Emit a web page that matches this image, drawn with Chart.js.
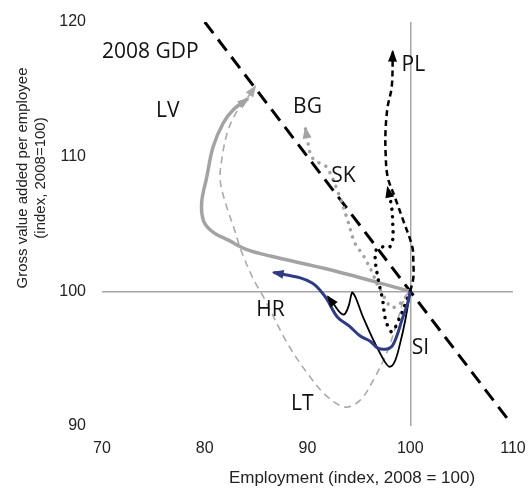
<!DOCTYPE html>
<html>
<head>
<meta charset="utf-8">
<script src="https://cdn.jsdelivr.net/npm/chart.js@4/dist/chart.umd.min.js"></script>
<style>
  html, body { margin: 0; padding: 0; background: #fff; }
  canvas { display: block; }
</style>
</head>
<body>
<canvas id="c" width="528" height="491"></canvas>
<script>
// axis ticks
const xTicks = [70, 80, 90, 100, 110];
const yTicks = [90, 100, 110, 120];

// 2008 GDP reference line (employment, gva)
const gdpEmp = [80, 109.5];
const gdpGva = [120, 90.5];

// country paths: employment index / gross value added per employee index
const lvEmp = [100, 92.2, 86.5, 84.1, 82.3, 80.8, 79.9, 79.7, 80.2, 80.8, 81.8, 82.8, 84.2];
const lvGva = [100, 101.6, 102.6, 103.1, 103.8, 104.4, 105.2, 106.6, 108.5, 110.7, 112.5, 113.5, 114.3];

const ltEmp = [100, 99.5, 98.7, 97.8, 96.4, 95.1, 93.7, 91.9, 90.0, 88.0, 85.7, 84.8, 83.6, 82.8, 82.0, 81.5, 81.7, 82.2, 83.0, 83.9, 84.9];
const ltGva = [100, 99.6, 97.7, 95.6, 93.4, 91.9, 91.4, 92.2, 93.9, 96.2, 99.6, 100.8, 102.9, 104.8, 106.6, 108.3, 110.0, 111.8, 113.2, 114.1, 115.2];

const bgEmp = [100, 99.7, 99.0, 98.2, 97.6, 96.8, 96.3, 95.4, 94.6, 93.9, 93.0, 91.9, 91.2, 90.4, 90.0, 89.8];
const bgGva = [100, 99.7, 99.1, 98.8, 99.4, 100.5, 101.4, 102.7, 103.6, 105.3, 107.3, 109.2, 109.5, 110.0, 111.2, 112.1];

const skEmp = [100, 99.7, 99.0, 98.2, 97.6, 97.3, 96.9, 96.6, 96.7, 97.3, 98.0, 98.3, 98.3, 98.2, 98.0, 97.8];
const skGva = [100, 99.4, 98.1, 97.0, 97.9, 99.4, 100.8, 102.3, 103.1, 103.3, 103.3, 103.9, 105.0, 106.2, 107.0, 107.7];

const plEmp = [100, 100.3, 100.3, 100.2, 99.3, 98.5, 97.8, 97.6, 97.6, 97.8, 98.2, 98.3];
const plGva = [100, 101.0, 102.2, 103.3, 105.3, 107.0, 108.5, 110.3, 112.0, 113.7, 115.2, 117.8];

const hrEmp = [100, 99.7, 99.2, 98.7, 98.2, 97.6, 96.8, 96.1, 95.1, 94.1, 92.9, 91.9, 91.2, 90.5, 89.3, 86.7];
const hrGva = [100, 99.0, 97.9, 96.7, 95.9, 95.7, 95.8, 96.3, 96.7, 97.4, 98.1, 99.4, 100.1, 100.6, 101.0, 101.4];

const siEmp = [100, 99.5, 99.0, 98.5, 98.0, 97.5, 96.4, 95.4, 94.4, 94.0, 93.6, 93.2, 92.6, 92.0];
const siGva = [100, 97.8, 96.1, 94.8, 94.4, 94.8, 96.4, 98.1, 99.9, 98.9, 98.3, 98.4, 99.0, 99.6];

// text labels in the plot: [text, employment, gva]
const labelText = ["2008 GDP", "LV", "BG", "SK", "PL", "HR", "LT", "SI"];
const labelEmp = [74.7, 76.4, 90.0, 93.5, 100.3, 86.4, 89.5, 101.0];
const labelGva = [117.8, 113.4, 113.7, 108.6, 116.8, 98.6, 91.6, 95.8];

const toPoints = (xs, ys) => xs.map((x, i) => ({ x, y: ys[i] }));

const GRAY = "#a3a3a3";
const NAVY = "#2f3b84";

const base = { showLine: true, pointRadius: 0, pointHoverRadius: 0, fill: false, tension: 0.35 };

const datasets = [
  { ...base, data: toPoints(hrEmp, hrGva), borderColor: NAVY, borderWidth: 3, arrow: NAVY },
  { ...base, data: toPoints(siEmp, siGva), borderColor: "#000", borderWidth: 1.8, arrow: "#000" },
  { ...base, data: toPoints(plEmp, plGva), borderColor: "#000", borderWidth: 2.5, borderDash: [6, 4], arrow: "#000" },
  { ...base, data: toPoints(skEmp, skGva), borderColor: "#000", borderWidth: 3.5, borderDash: [0.1, 7.5], borderCapStyle: "round", arrow: "#000" },
  { ...base, data: toPoints(bgEmp, bgGva), borderColor: GRAY, borderWidth: 3.5, borderDash: [0.1, 7.5], borderCapStyle: "round", arrow: GRAY },
  { ...base, data: toPoints(lvEmp, lvGva), borderColor: GRAY, borderWidth: 3.5, arrow: GRAY },
  { ...base, data: toPoints(ltEmp, ltGva), borderColor: "#aaaaaa", borderWidth: 1.6, borderDash: [7, 5], arrow: "#aaaaaa" },
  { ...base, tension: 0, data: toPoints(gdpEmp, gdpGva), borderColor: "#000", borderWidth: 3, borderDash: [14, 8] },
];

// arrowheads at the end of each path
const arrowPlugin = {
  id: "arrows",
  afterDatasetsDraw(chart) {
    const ctx = chart.ctx;
    chart.data.datasets.forEach((ds, i) => {
      if (!ds.arrow) return;
      const pts = chart.getDatasetMeta(i).data;
      const last = pts[pts.length - 1];
      let fx = last.cp1x, fy = last.cp1y;
      if (fx === undefined || Math.hypot(last.x - fx, last.y - fy) < 0.5) {
        fx = pts[pts.length - 2].x;
        fy = pts[pts.length - 2].y;
      }
      const ang = Math.atan2(last.y - fy, last.x - fx);
      const len = 10, half = 4.5;
      ctx.save();
      ctx.translate(last.x, last.y);
      ctx.rotate(ang);
      ctx.fillStyle = ds.arrow;
      ctx.beginPath();
      ctx.moveTo(2, 0);
      ctx.lineTo(-len, -half);
      ctx.lineTo(-len, half);
      ctx.closePath();
      ctx.fill();
      ctx.restore();
    });
  },
};

// plot labels and axis titles
const textPlugin = {
  id: "texts",
  afterDraw(chart) {
    const ctx = chart.ctx;
    const xs = chart.scales.x, ys = chart.scales.y;
    ctx.save();
    ctx.fillStyle = "#111";
    ctx.textAlign = "center";
    ctx.textBaseline = "middle";
    ctx.font = '21px "Open Sans"';
    labelText.forEach((t, i) => {
      ctx.fillText(t, xs.getPixelForValue(labelEmp[i]), ys.getPixelForValue(labelGva[i]));
    });

    ctx.fillStyle = "#222";
    ctx.font = '17px "Liberation Sans"';
    ctx.fillText("Employment (index, 2008 = 100)", 352, 478);

    ctx.font = '15px "Liberation Sans"';
    ctx.translate(32, 178);
    ctx.rotate(-Math.PI / 2);
    ctx.fillText("Gross value added per employee", 0, -9);
    ctx.fillText("(index, 2008=100)", 0, 9);
    ctx.restore();
  },
};

const axisLine = (c) => (c.tick && c.tick.value === 100 ? "#a6a6a6" : "rgba(0,0,0,0)");

new Chart(document.getElementById("c"), {
  type: "scatter",
  data: { datasets },
  options: {
    responsive: false,
    animation: false,
    events: [],
    layout: { padding: { left: 0, right: 15, top: 22, bottom: 0 } },
    plugins: { legend: { display: false }, tooltip: { enabled: false } },
    scales: {
      x: {
        type: "linear",
        min: xTicks[0],
        max: xTicks[xTicks.length - 1],
        afterFit: (s) => { s.height = 65; s.paddingLeft = 0; s.paddingRight = 0; },
        afterBuildTicks: (s) => { s.ticks = xTicks.map((v) => ({ value: v })); },
        ticks: { padding: 13, color: "#222", font: { family: "Liberation Sans", size: 16 } },
        grid: { drawTicks: false, color: axisLine, lineWidth: 1.5 },
        border: { display: false },
      },
      y: {
        type: "linear",
        min: yTicks[0],
        max: yTicks[yTicks.length - 1],
        afterFit: (s) => { s.width = 102; s.paddingTop = 0; s.paddingBottom = 0; },
        afterBuildTicks: (s) => { s.ticks = yTicks.map((v) => ({ value: v })); },
        ticks: { padding: 16, color: "#222", font: { family: "Liberation Sans", size: 16 } },
        grid: { drawTicks: false, color: axisLine, lineWidth: 1.5 },
        border: { display: false },
      },
    },
  },
  plugins: [arrowPlugin, textPlugin],
});
</script>
</body>
</html>
